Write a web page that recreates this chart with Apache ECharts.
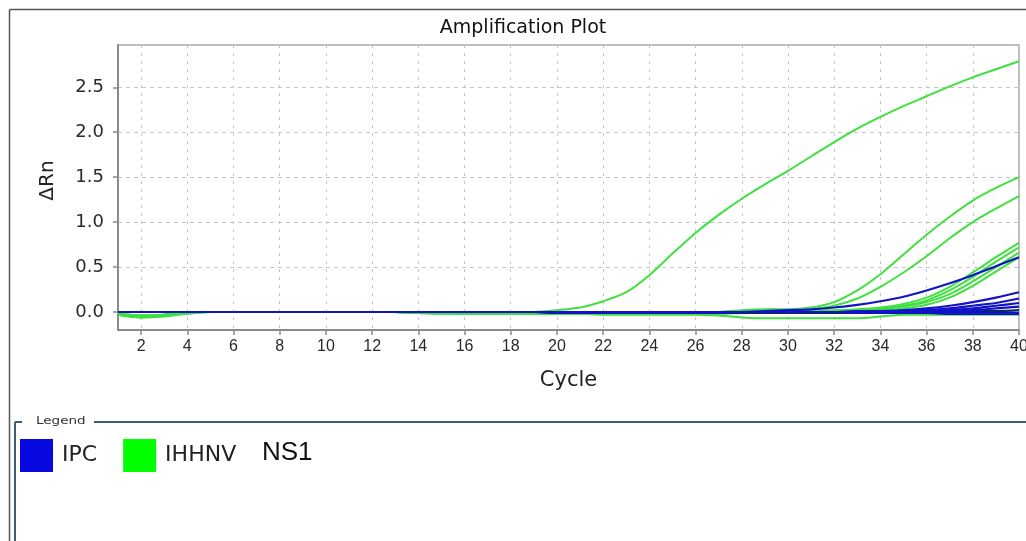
<!DOCTYPE html>
<html>
<head>
<meta charset="utf-8">
<script src="https://cdn.jsdelivr.net/npm/echarts@6/dist/echarts.min.js"></script>
<style>
html,body{margin:0;padding:0;background:#fff;}
#c{width:1026px;height:541px;}
</style>
</head>
<body>
<div id="c"></div>
<script>
// ---- data ----
const cycles = [1,2,3,4,5,6,7,8,9,10,11,12,13,14,15,16,17,18,19,20,21,22,23,24,25,26,27,28,29,30,31,32,33,34,35,36,37,38,39,40];
const xTicks = [2,4,6,8,10,12,14,16,18,20,22,24,26,28,30,32,34,36,38,40];
const yTicks = [0,0.5,1,1.5,2,2.5];
const legendNames = ['IPC','IHHNV'];
const extraLegendText = 'NS1';

// IHHNV (green) curves, one value per cycle 1..40
const ihhnv1 = [-0.02,-0.05,-0.04,-0.01,0,0,0,0,0,0,0,0,0,-0.01,-0.01,-0.01,-0.01,-0.01,0,0.02,0.05,0.12,0.22,0.41,0.65,0.88,1.08,1.26,1.42,1.57,1.73,1.89,2.04,2.17,2.29,2.40,2.51,2.61,2.70,2.79];
const ihhnv2 = [-0.03,-0.06,-0.04,-0.01,0,0,0,0,0,0,0,0,0,-0.01,-0.02,-0.02,-0.02,-0.02,-0.02,-0.02,-0.02,-0.02,-0.02,-0.02,-0.02,-0.01,0,0.02,0.03,0.03,0.05,0.11,0.24,0.42,0.64,0.86,1.06,1.24,1.38,1.50];
const ihhnv3 = [-0.02,-0.04,-0.03,-0.01,0,0,0,0,0,0,0,0,0,-0.01,-0.01,-0.02,-0.02,-0.02,-0.02,-0.02,-0.02,-0.02,-0.02,-0.01,-0.01,0,0,0.01,0.02,0.02,0.03,0.07,0.15,0.28,0.44,0.62,0.82,1.00,1.15,1.29];
const ihhnv4 = [-0.02,-0.05,-0.03,0,0,0,0,0,0,0,0,0,0,-0.01,-0.01,-0.01,-0.01,-0.01,-0.01,-0.01,-0.01,-0.02,-0.02,-0.02,-0.02,-0.02,-0.01,0,0.01,0.02,0.02,0.02,0.03,0.05,0.09,0.16,0.28,0.44,0.61,0.77];
const ihhnv5 = [-0.02,-0.04,-0.03,0,0,0,0,0,0,0,0,0,0,-0.01,-0.01,-0.01,-0.01,-0.01,-0.01,-0.01,-0.01,-0.02,-0.02,-0.02,-0.02,-0.02,-0.01,0,0.01,0.01,0.01,0.01,0.02,0.04,0.07,0.13,0.24,0.39,0.56,0.72];
const ihhnv6 = [-0.03,-0.05,-0.04,-0.01,0,0,0,0,0,0,0,0,0,-0.01,-0.01,-0.01,-0.01,-0.01,-0.01,-0.01,-0.02,-0.02,-0.02,-0.02,-0.02,-0.02,-0.01,0,0,0.01,0.01,0.01,0.02,0.03,0.06,0.11,0.20,0.34,0.50,0.66];
const ihhnv7 = [-0.02,-0.04,-0.03,0,0,0,0,0,0,0,0,0,0,-0.01,-0.01,-0.01,-0.01,-0.01,-0.01,-0.01,-0.01,-0.02,-0.02,-0.02,-0.02,-0.02,-0.02,-0.01,0,0,0,0.01,0.01,0.02,0.04,0.08,0.16,0.29,0.45,0.61];
const ihhnv8 = [-0.03,-0.06,-0.05,-0.02,0,0,0,0,0,0,0,0,0,-0.01,-0.02,-0.02,-0.02,-0.02,-0.02,-0.02,-0.02,-0.03,-0.03,-0.03,-0.03,-0.03,-0.04,-0.06,-0.07,-0.07,-0.07,-0.07,-0.07,-0.05,-0.03,-0.03,-0.03,-0.03,-0.03,-0.03];

// IPC (blue) curves
const ipc1 = [0,0,0,0,0,0,0,0,0,0,0,0,0,0,0,0,0,0,0,-0.01,-0.01,-0.01,-0.01,-0.01,-0.01,-0.01,-0.01,0,0.01,0.02,0.03,0.05,0.08,0.12,0.17,0.24,0.32,0.41,0.51,0.61];
const ipc2 = [0,0,0,0,0,0,0,0,0,0,0,0,0,0,0,0,0,0,0,0,0,0,0,0,0,0,0,0,0,0,0,0,0.01,0.01,0.02,0.04,0.07,0.11,0.16,0.22];
const ipc3 = [0,0,0,0,0,0,0,0,0,0,0,0,0,0,0,0,0,0,0,0,0,0,0,0,0,0,0,0,0,0,0,0,0,0,0.01,0.02,0.04,0.07,0.10,0.15];
const ipc4 = [0,0,0,0,0,0,0,0,0,0,0,0,0,0,0,0,0,0,0,0,0,0,0,0,0,0,0,0,0,0,0,0,0,0,0,0.01,0.02,0.04,0.07,0.10];
const ipc5 = [0,0,0,0,0,0,0,0,0,0,0,0,0,0,0,0,0,0,0,0,0,0,0,0,0,0,0,0,0,0,0,0,0,0,0,0,0.01,0.02,0.04,0.06];
const ipc6 = [0,0,0,0,0,0,0,0,0,0,0,0,0,0,0,0,0,0,0,-0.01,-0.01,-0.01,-0.01,-0.01,-0.01,-0.01,-0.01,-0.01,-0.01,-0.01,-0.01,-0.01,0,0,0,0,0,0.01,0.01,0.02];
const ipc7 = [0,0,0,0,0,0,0,0,0,0,0,0,0,0,0,0,0,0,0,0,0,0,0,0,0,-0.01,-0.01,-0.01,-0.01,-0.01,-0.01,-0.01,-0.01,-0.01,-0.01,-0.01,-0.02,-0.02,-0.02,-0.02];
const ipc8 = [0,0,0,0,0,0,0,0,0,0,0,0,0,0,0,0,0,0,0,0,0,0,0,0,0,0,0,0,0,0,0,0,0,0,0,0,0,0,-0.01,-0.01];

const greenCurves = [ihhnv8, ihhnv7, ihhnv6, ihhnv5, ihhnv4, ihhnv3, ihhnv2, ihhnv1];
const blueCurves = [ipc7, ipc6, ipc8, ipc5, ipc4, ipc3, ipc2, ipc1];

// ---- styles ----
const GREEN = '#3fe03f';
const BLUE = '#1212c8';
const DARK = '#0a2a55';

function mk(name, arr, color, w, z) {
  return {
    name: name, type: 'line', symbol: 'none', smooth: 0.3,
    data: cycles.map((c, i) => [c, arr[i]]),
    lineStyle: { color: color, width: w },
    itemStyle: { color: color },
    z: z, silent: true, animation: false
  };
}

const series = [];
greenCurves.forEach((a) => series.push(mk('IHHNV', a, GREEN, 2, 2)));
blueCurves.forEach((a, i) => series.push(mk('IPC', a, i === 1 ? DARK : BLUE, 2.2, 3)));

const chart = echarts.init(document.getElementById('c'), null, { renderer: 'canvas' });
const FONT = '"Liberation Sans", Arial, sans-serif';
const WIDE = '"DejaVu Sans", sans-serif';

chart.setOption({
  animation: false,
  backgroundColor: '#fff',
  title: {
    text: 'Amplification Plot', left: 518, top: 14, textAlign: 'center',
    textStyle: { fontFamily: WIDE, fontSize: 19, fontWeight: 'normal', color: '#111' }
  },
  grid: {
    left: 118, right: 7, top: 45, bottom: 211, outerBoundsMode: 'none', containLabel: false,
    show: true, borderColor: '#aaaaaa', borderWidth: 1.5, backgroundColor: 'transparent'
  },
  legend: {
    data: [
      { name: 'IPC', itemStyle: { color: '#0808e0' } },
      { name: 'IHHNV', itemStyle: { color: '#00ff00' } }
    ],
    icon: 'rect', itemWidth: 33, itemHeight: 33, itemGap: 26, padding: 0,
    left: 20, top: 439, selectedMode: false,
    textStyle: { fontFamily: WIDE, fontSize: 22, color: '#222', padding: [6, 0, 0, 4] }
  },
  xAxis: {
    type: 'value', min: 1, max: 40,
    name: 'Cycle', nameLocation: 'middle', nameGap: 40,
    nameTextStyle: { fontFamily: WIDE, fontSize: 21, color: '#222' },
    axisLine: { show: true, onZero: false, lineStyle: { color: '#8a8a8a', width: 2 } },
    axisTick: { show: true, length: 5, customValues: xTicks, lineStyle: { color: '#8a8a8a', width: 1.5 } },
    axisLabel: { customValues: xTicks, margin: 9, fontFamily: FONT, fontSize: 16, color: '#2a2a2a' },
    splitLine: { show: true, lineStyle: { color: '#c6c6c6', type: [3, 5], width: 1 } }
  },
  yAxis: {
    type: 'value', min: -0.2, max: 2.97,
    name: 'ΔRn', nameLocation: 'middle', nameGap: 60, nameRotate: 90,
    nameTextStyle: { fontFamily: WIDE, fontSize: 20, color: '#222', padding: [0, 0, 0, 14] },
    axisLine: { show: true, lineStyle: { color: '#8a8a8a', width: 2 } },
    axisTick: { show: true, length: 5, customValues: yTicks, lineStyle: { color: '#8a8a8a', width: 1.5 } },
    axisLabel: { customValues: yTicks, margin: 14, fontFamily: WIDE, fontSize: 18, color: '#2a2a2a',
      formatter: (v) => Number(v).toFixed(1) },
    splitLine: { show: true, lineStyle: { color: '#c6c6c6', type: [4, 4], width: 1 } }
  },
  graphic: [
    { type: 'line', shape: { x1: 9.5, y1: 9.5, x2: 1026, y2: 9.5 }, style: { stroke: '#555', lineWidth: 1.5 }, silent: true },
    { type: 'line', shape: { x1: 9.5, y1: 9.5, x2: 9.5, y2: 541 }, style: { stroke: '#555', lineWidth: 1.5 }, silent: true },
    { type: 'line', shape: { x1: 15, y1: 422, x2: 22, y2: 422 }, style: { stroke: '#3c5e7e', lineWidth: 2 }, silent: true },
    { type: 'line', shape: { x1: 94, y1: 422, x2: 1026, y2: 422 }, style: { stroke: '#3c5e7e', lineWidth: 2 }, silent: true },
    { type: 'line', shape: { x1: 15, y1: 422, x2: 15, y2: 541 }, style: { stroke: '#3c5e7e', lineWidth: 2 }, silent: true },
    { type: 'text', x: 36, y: 416, scaleX: 1.35, style: { text: 'Legend', font: '10px ' + WIDE, fill: '#333' }, silent: true },
    { type: 'text', left: 262, top: 440, style: { text: extraLegendText, font: '26px ' + FONT, fill: '#111' }, silent: true }
  ],
  series: series
});
</script>
</body>
</html>
